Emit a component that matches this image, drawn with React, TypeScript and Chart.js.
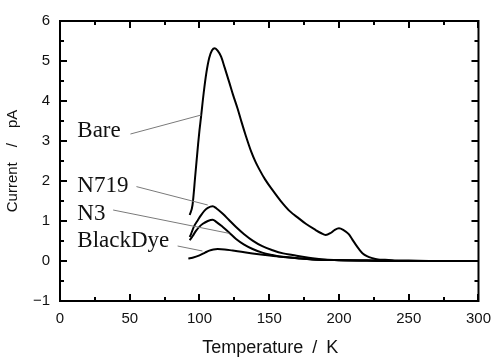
import React, { useEffect, useRef } from "react";
import { Chart, registerables } from "chart.js";

Chart.register(...registerables);

// ---- Data ----
const bareT = [93, 95, 97, 99, 100, 101, 103, 105, 107, 109, 111, 113, 115.5, 118, 121.4, 124, 127.4, 130, 133.3, 137, 140, 142.9, 147, 152.4, 158, 164.3, 171.4, 176.2, 183, 187, 190.5, 194, 197, 200, 203, 207, 209.5, 212, 214.5, 217, 220, 224, 228, 233, 240, 250, 270, 300];
const bareI = [1.15, 1.4, 2.15, 2.92, 3.27, 3.57, 4.2, 4.72, 5.08, 5.27, 5.32, 5.26, 5.11, 4.84, 4.46, 4.16, 3.8, 3.49, 3.12, 2.74, 2.49, 2.29, 2.04, 1.77, 1.51, 1.26, 1.06, 0.93, 0.78, 0.7, 0.65, 0.7, 0.78, 0.82, 0.78, 0.67, 0.54, 0.41, 0.29, 0.19, 0.12, 0.07, 0.04, 0.03, 0.015, 0.01, 0.0, 0.0];

const n719T = [93, 94, 96, 98.8, 101, 103.6, 106, 109.5, 112, 116.7, 121, 126.2, 132, 138.1, 145, 152.4, 160, 166.7, 175, 181, 190, 200, 220, 250, 300];
const n719I = [0.6, 0.68, 0.86, 1.02, 1.14, 1.26, 1.33, 1.37, 1.32, 1.18, 1.03, 0.85, 0.67, 0.51, 0.37, 0.27, 0.19, 0.15, 0.1, 0.07, 0.04, 0.025, 0.01, 0.0, 0.0];

const n3T = [93, 95, 97.6, 100, 102.4, 106, 109.5, 112, 116.7, 121, 126.2, 132, 138.1, 145, 152.4, 160, 166.7, 181, 200, 220, 250, 300];
const n3I = [0.52, 0.62, 0.76, 0.86, 0.93, 1.0, 1.03, 0.98, 0.85, 0.72, 0.55, 0.41, 0.3, 0.21, 0.15, 0.1, 0.08, 0.04, 0.02, 0.01, 0.0, 0.0];

const blackT = [92, 95, 100, 104, 107, 110, 113, 118, 123.8, 130, 138, 147, 157, 170, 181, 200, 220, 250, 300];
const blackI = [0.06, 0.08, 0.14, 0.21, 0.26, 0.29, 0.3, 0.29, 0.26, 0.23, 0.19, 0.15, 0.11, 0.07, 0.04, 0.02, 0.01, 0.0, 0.0];

const xTickLabels = [0, 50, 100, 150, 200, 250, 300];
const yTickLabels = [-1, 0, 1, 2, 3, 4, 5, 6];

// Curve labels with leader lines (data units)
const labelNames = ["Bare", "N719", "N3", "BlackDye"];
const labelX = [12.4, 12.4, 12.4, 12.4];
const labelY = [3.11, 1.73, 1.025, 0.34];
const leaderX1 = [50.5, 54.8, 38.1, 84.3];
const leaderY1 = [3.175, 1.86, 1.275, 0.375];
const leaderX2 = [101.2, 105.9, 121.4, 102.1];
const leaderY2 = [3.65, 1.4, 0.69, 0.25];

const series = [
  { t: bareT, v: bareI },
  { t: n719T, v: n719I },
  { t: n3T, v: n3I },
  { t: blackT, v: blackI },
];

const framePlugin = {
  id: "frameTicks",
  afterDatasetsDraw(chart: any) {
    const { ctx, chartArea: a, scales } = chart;
    const x = scales.x;
    const y = scales.y;
    ctx.save();
    ctx.strokeStyle = "#000";
    ctx.lineWidth = 2;
    ctx.strokeRect(a.left, a.top, a.right - a.left, a.bottom - a.top);
    ctx.beginPath();
    for (let v = 0; v <= 300; v += 25) {
      const px = Math.round(x.getPixelForValue(v));
      const len = v % 50 === 0 ? 7 : 4;
      ctx.moveTo(px, a.bottom);
      ctx.lineTo(px, a.bottom - len);
      ctx.moveTo(px, a.top);
      ctx.lineTo(px, a.top + len);
    }
    for (let k = -2; k <= 12; k++) {
      const v = k / 2;
      const py = Math.round(y.getPixelForValue(v));
      const len = k % 2 === 0 ? 7 : 4;
      ctx.moveTo(a.left, py);
      ctx.lineTo(a.left + len, py);
      ctx.moveTo(a.right, py);
      ctx.lineTo(a.right - len, py);
    }
    ctx.stroke();

    // leader lines
    ctx.strokeStyle = "#7a7a7a";
    ctx.lineWidth = 1;
    ctx.beginPath();
    for (let i = 0; i < labelNames.length; i++) {
      ctx.moveTo(x.getPixelForValue(leaderX1[i]), y.getPixelForValue(leaderY1[i]));
      ctx.lineTo(x.getPixelForValue(leaderX2[i]), y.getPixelForValue(leaderY2[i]));
    }
    ctx.stroke();

    // labels
    ctx.fillStyle = "#111";
    ctx.font = '23px "Liberation Serif", "Times New Roman", serif';
    ctx.textAlign = "left";
    ctx.textBaseline = "alphabetic";
    for (let i = 0; i < labelNames.length; i++) {
      ctx.fillText(labelNames[i], x.getPixelForValue(labelX[i]), y.getPixelForValue(labelY[i]));
    }

    // axis titles
    ctx.fillStyle = "#111";
    ctx.font = '18px "Liberation Sans", Arial, sans-serif';
    ctx.textAlign = "center";
    ctx.textBaseline = "alphabetic";
    ctx.fillText("Temperature\u2002/\u2002K", (a.left + a.right) / 2 + 1, a.bottom + 52);
    ctx.save();
    ctx.translate(a.left - 43, (a.top + a.bottom) / 2);
    ctx.rotate(-Math.PI / 2);
    ctx.font = '15px "Liberation Sans", Arial, sans-serif';
    ctx.fillText("Current\u2003/\u2003pA", 0, 0);
    ctx.restore();
    ctx.restore();
  },
};

export default function App() {
  const ref = useRef<HTMLCanvasElement | null>(null);
  useEffect(() => {
    if (!ref.current) return;
    const chart = new Chart(ref.current, {
      type: "line",
      data: {
        datasets: series.map((s) => ({
          data: s.t.map((t, i) => ({ x: t, y: s.v[i] })),
          borderColor: "#000",
          borderWidth: 2,
          pointRadius: 0,
          fill: false,
          cubicInterpolationMode: "monotone" as const,
        })),
      },
      options: {
        animation: false,
        responsive: false,
        events: [],
        layout: { padding: { top: 21, right: 20, left: 0, bottom: 0 } },
        plugins: { legend: { display: false }, tooltip: { enabled: false } },
        scales: {
          x: {
            type: "linear",
            min: 0,
            max: 300,
            afterFit: (s: any) => {
              s.height = 60;
            },
            afterBuildTicks: (s: any) => {
              s.ticks = xTickLabels.map((v) => ({ value: v }));
            },
            grid: { display: false, drawTicks: false },
            border: { display: false },
            ticks: {
              color: "#111",
              padding: 9,
              maxRotation: 0,
              font: { family: '"Liberation Sans", Arial, sans-serif', size: 15 },
            },
          },
          y: {
            type: "linear",
            min: -1,
            max: 6,
            afterFit: (s: any) => {
              s.width = 60;
            },
            afterBuildTicks: (s: any) => {
              s.ticks = yTickLabels.map((v) => ({ value: v }));
            },
            grid: { display: false, drawTicks: false },
            border: { display: false },
            ticks: {
              color: "#111",
              padding: 10,
              font: { family: '"Liberation Sans", Arial, sans-serif', size: 15 },
              callback: (v: any) => String(v).replace("-", "\u2212"),
            },
          },
        },
      },
      plugins: [framePlugin],
    });
    return () => chart.destroy();
  }, []);
  return (
    <div style={{ position: "fixed", left: 0, top: 0, width: 500, height: 361, background: "#fff" }}>
      <canvas ref={ref} width={500} height={361} />
    </div>
  );
}
